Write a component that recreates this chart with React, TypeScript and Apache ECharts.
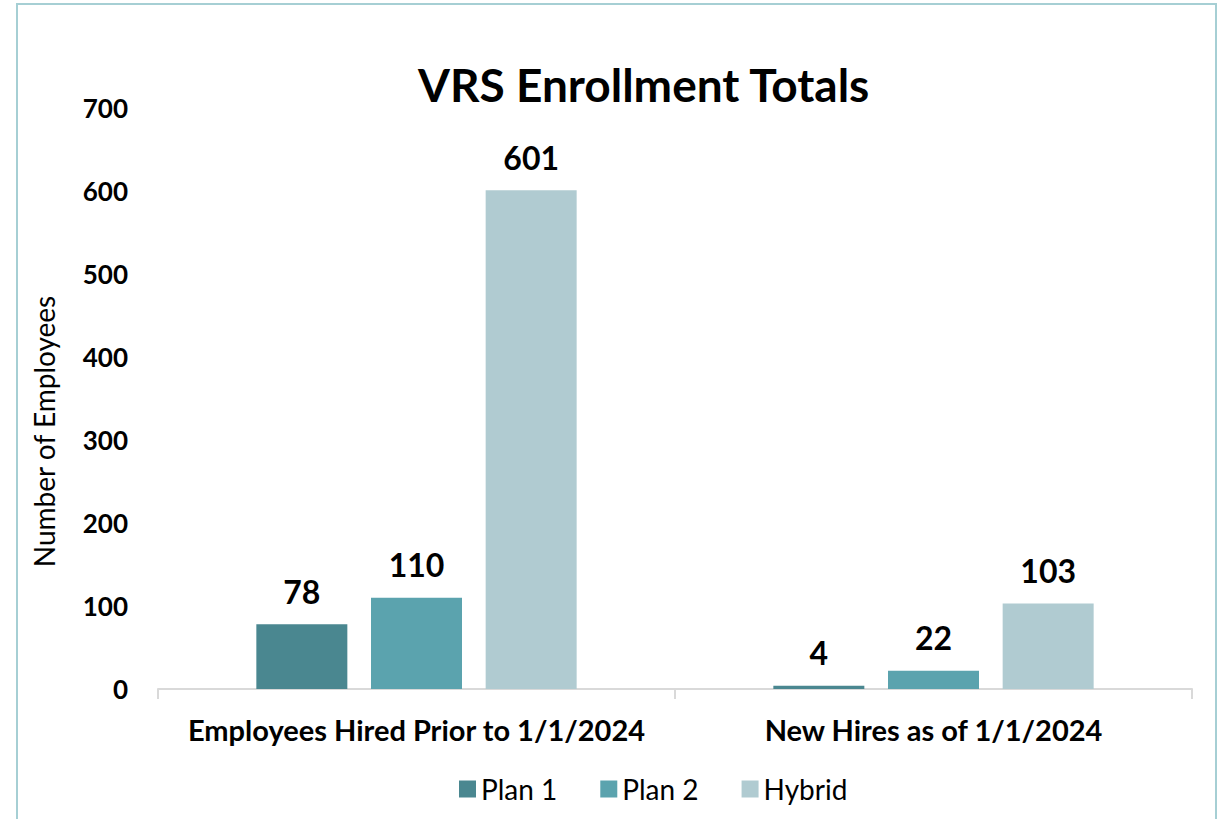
import React, { useEffect, useRef } from "react";
import * as echarts from "echarts";

const categories = ["Employees Hired Prior to 1/1/2024", "New Hires as of 1/1/2024"];
const plan1 = [78, 4];
const plan2 = [110, 22];
const hybrid = [601, 103];
const seriesNames = ["Plan 1", "Plan 2", "Hybrid"];
const colors = ["#4a8790", "#5ba3ae", "#b0cbd1"];

export default function App() {
  const ref = useRef<HTMLDivElement>(null);
  useEffect(() => {
    document.body.style.margin = "0";
    const chart = echarts.init(ref.current!, null, { renderer: "svg" });
    const font = "Lato, 'Open Sans', sans-serif";
    const label = {
      show: true,
      position: "top",
      distance: 17,
      fontFamily: font,
      fontWeight: "bold",
      fontSize: 32,
      color: "#000",
    };
    const data = [plan1, plan2, hybrid];
    chart.setOption({
      animation: false,
      textStyle: { fontFamily: font },
      graphic: [
        {
          type: "rect",
          shape: { x: 17, y: 4, width: 1199, height: 840 },
          style: { fill: "none", stroke: "#a6cfd4", lineWidth: 2 },
          silent: true,
        },
      ],
      title: {
        text: "VRS Enrollment Totals",
        left: 413,
        top: 56,
        textStyle: { fontFamily: font, fontWeight: "bold", fontSize: 46, color: "#000" },
      },
      legend: {
        data: seriesNames,
        top: 770,
        left: 454,
        itemWidth: 17,
        itemHeight: 17,
        itemGap: 43,
        icon: "rect",
        textStyle: { fontFamily: font, fontSize: 28, color: "#000" },
      },
      grid: { left: 158, right: 29, top: 108, bottom: 130 },
      xAxis: {
        type: "category",
        data: categories,
        axisLine: { lineStyle: { color: "#d9d9d9", width: 2 } },
        axisTick: { show: true, interval: 0, length: 10, lineStyle: { color: "#d9d9d9", width: 2 } },
        axisLabel: {
          interval: 0,
          margin: 26,
          fontFamily: font,
          fontWeight: "bold",
          fontSize: 29,
          color: "#000",
        },
      },
      yAxis: {
        type: "value",
        min: 0,
        max: 700,
        interval: 100,
        name: "Number of Employees",
        nameLocation: "middle",
        nameGap: 100,
        nameTextStyle: { fontFamily: font, fontSize: 28, color: "#000", padding: [0, 66, 0, 0] },
        axisLine: { show: false },
        axisTick: { show: false },
        splitLine: { show: false },
        axisLabel: {
          margin: 30,
          fontFamily: font,
          fontWeight: "bold",
          fontSize: 26,
          color: "#000",
        },
      },
      series: seriesNames.map((n, i) => ({
        name: n,
        type: "bar",
        data: data[i],
        barWidth: 91,
        barGap: "26%",
        itemStyle: { color: colors[i] },
        label,
      })),
    });
    return () => chart.dispose();
  }, []);
  return (
    <div
      ref={ref}
      style={{ position: "absolute", left: 0, top: 0, width: 1221, height: 819, background: "#fff" }}
    />
  );
}
